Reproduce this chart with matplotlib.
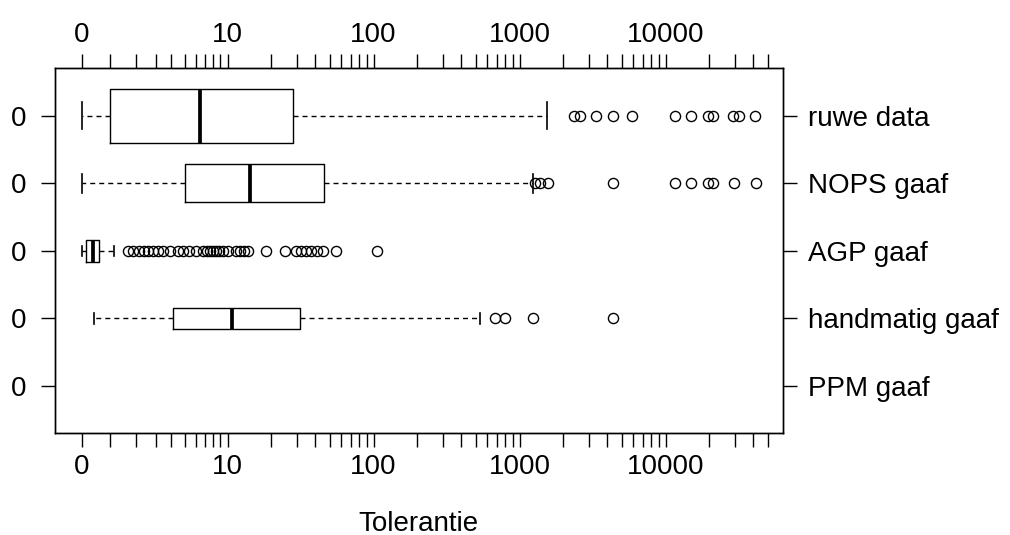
import numpy as np
import matplotlib
matplotlib.use("Agg")
import matplotlib.pyplot as plt
from matplotlib.ticker import FixedLocator, FixedFormatter

plt.rcParams['font.family'] = ['Liberation Sans', 'DejaVu Sans']
plt.rcParams['lines.scale_dashes'] = False

# Groups, top to bottom
groups = ["ruwe data", "NOPS gaaf", "AGP gaaf", "handmatig gaaf", "PPM gaaf"]

# Box statistics on the log axis (axis value 1 is labelled "0")
whislo = [1.0, 1.0, 1.0, 1.22, None]
q1     = [1.57, 5.09, 1.08, 4.25, None]
med    = [6.51, 14.2, 1.20, 10.7, None]
q3     = [28.3, 45.7, 1.32, 31.4, None]
whishi = [1546, 1233, 1.67, 539, None]

fliers_ruwe = [2344, 2576, 3343, 4372, 5919, 11540, 14870, 19690, 21130,
               28850, 31990, 41300]
fliers_nops = [1271, 1391, 1561, 4357, 11540, 14870, 19530, 21130, 29460, 41500]
fliers_agp = [2.08, 2.25, 2.47, 2.68, 2.85, 3.08, 3.34, 3.61, 4.03, 4.58, 4.95,
              5.44, 6.08, 6.79, 7.23, 7.59, 7.95, 8.34, 8.74, 9.31, 10.08,
              11.44, 12.18, 12.98, 13.82, 18.37, 24.8, 29.5, 31.9, 34.5, 37.4,
              41.1, 45.2, 55.5, 106]
fliers_hand = [684, 800, 1233, 4357]
fliers = [fliers_ruwe, fliers_nops, fliers_agp, fliers_hand, []]

major_ticks = [1, 10, 100, 1000, 10000]
major_labels = ["0", "10", "100", "1000", "10000"]

# relative box heights (variable width boxes)
box_heights = [0.80, 0.558, 0.32, 0.317, 0.0]

fig = plt.figure(figsize=(10.1, 5.35), dpi=100)
ax = fig.add_axes([0.054, 0.190, 0.721, 0.682])

n = len(groups)
positions = [n - i for i in range(n)]

stats, pos, widths, caps = [], [], [], []
for i in range(n):
    if med[i] is None:
        continue
    stats.append(dict(med=med[i], q1=q1[i], q3=q3[i], whislo=whislo[i],
                      whishi=whishi[i], fliers=fliers[i], label=groups[i]))
    pos.append(positions[i])
    widths.append(box_heights[i])
    caps.append(box_heights[i] / 2)

lw = 1.0
common = dict(positions=pos, widths=widths, capwidths=caps,
              showfliers=True, manage_ticks=False,
              boxprops=dict(color='black', linewidth=lw),
              whiskerprops=dict(color='black', linewidth=lw, linestyle=(0, (3.6, 2.9))),
              capprops=dict(color='black', linewidth=1.2),
              medianprops=dict(color='black', linewidth=2.7, solid_capstyle='butt'),
              flierprops=dict(marker='o', markerfacecolor='none',
                              markeredgecolor='black', markersize=7.3,
                              markeredgewidth=1.0, linestyle='none'))
try:
    ax.bxp(stats, orientation='horizontal', **common)
except TypeError:
    ax.bxp(stats, vert=False, **common)

ax.set_xscale('log')
ax.set_xlim(10 ** -0.185, 10 ** 4.803)
ax.set_ylim(0.3, n + 0.7)

# minor ticks
first_decade = [10 ** f for f in [0.195, 0.37, 0.508, 0.615, 0.707, 0.781, 0.846, 0.901, 0.951]]
minor = list(first_decade)
for d in [10, 100, 1000]:
    minor += [k * d for k in range(2, 10)]
minor += [20000, 30000, 40000, 50000]

ax.xaxis.set_major_locator(FixedLocator(major_ticks))
ax.xaxis.set_major_formatter(FixedFormatter(major_labels))
ax.xaxis.set_minor_locator(FixedLocator(minor))
ax.xaxis.set_minor_formatter(FixedFormatter([""] * len(minor)))

ax.tick_params(axis='x', which='both', top=True, bottom=True, labeltop=True,
               labelbottom=True, direction='out', length=10, width=1.0,
               labelsize=20, pad=5)
ax.set_yticks(positions)
ax.set_yticklabels(["0"] * n)
ax.tick_params(axis='y', which='both', left=True, right=True, direction='out',
               length=10, width=1.0, labelsize=20, pad=10)

ax2 = ax.twinx()
ax2.set_ylim(ax.get_ylim())
ax2.set_yticks(positions)
ax2.set_yticklabels(groups)
ax2.tick_params(axis='y', direction='out', length=10, width=1.0, labelsize=20, pad=8)

for a in (ax, ax2):
    for s in a.spines.values():
        s.set_linewidth(1.0)

ax.set_xlabel("Tolerantie", fontsize=20, labelpad=22)

fig.savefig("out.png", dpi=100)
